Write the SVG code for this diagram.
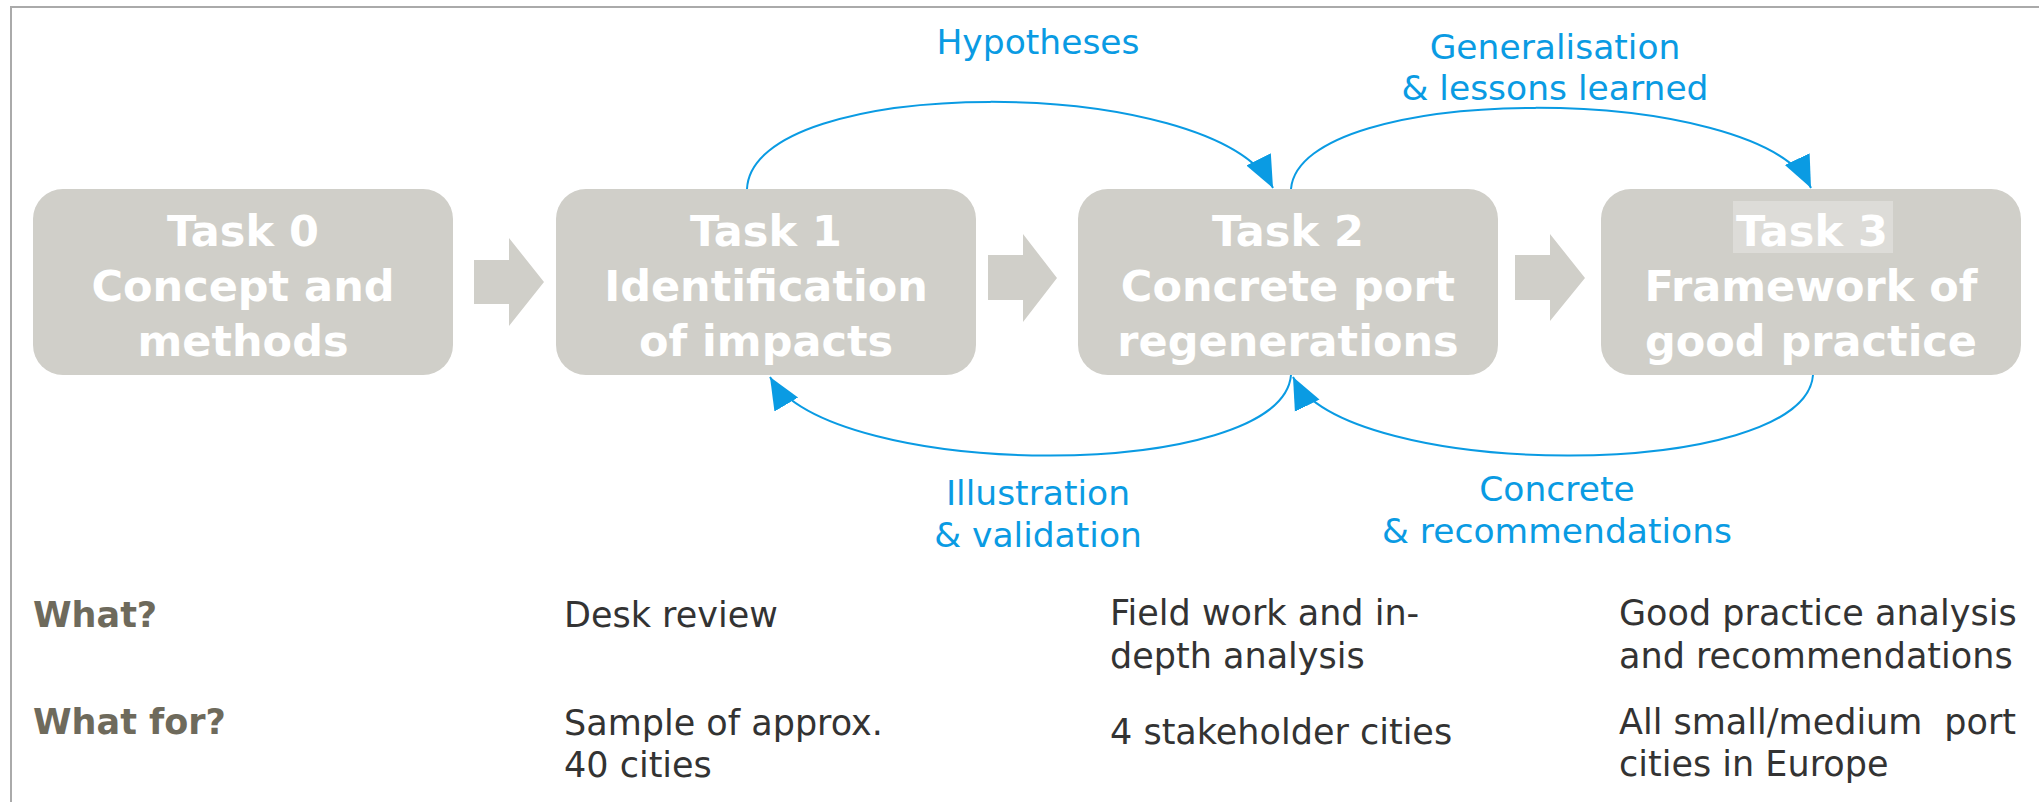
<svg xmlns="http://www.w3.org/2000/svg" width="2039" height="802" viewBox="0 0 2039 802">
<style>
.box{fill:#d0cfc9}
.hl{fill:#dddcd8}
.blk{fill:#d0cfc9}
.tt{font-family:"DejaVu Sans",Verdana,sans-serif;font-weight:bold;font-size:43px;fill:#ffffff;text-anchor:middle}
.lbl{font-family:"DejaVu Sans",Verdana,sans-serif;font-size:34.5px;fill:#0a9be3;text-anchor:middle}
.hd{font-family:"DejaVu Sans",Verdana,sans-serif;font-weight:bold;font-size:35px;fill:#6e6a5c}
.bd{font-family:"DejaVu Sans",Verdana,sans-serif;font-size:35px;fill:#333333}
.cn{fill:none;stroke:#0a9be3;stroke-width:2}
.frame{stroke:#aaaaaa;stroke-width:2;fill:none}
</style>
<defs>
<marker id="ah" markerUnits="userSpaceOnUse" markerWidth="32" markerHeight="32" viewBox="0 0 28 24" refX="28" refY="12" orient="auto">
<path d="M0,0 L28,12 L0,24 Z" fill="#0a9be3"/>
</marker>
</defs>
<rect width="2039" height="802" fill="#ffffff"/>
<path class="frame" d="M11,802 V7 H2039"/>

<g id="task0">
<rect class="box" x="33" y="189" width="420" height="186" rx="30"/>
<text class="tt" x="243" y="246">Task 0</text>
<text class="tt" x="243" y="301">Concept and</text>
<text class="tt" x="243" y="356">methods</text>
</g>
<g id="task1">
<rect class="box" x="556" y="189" width="420" height="186" rx="30"/>
<text class="tt" x="766" y="246">Task 1</text>
<text class="tt" x="766" y="301">Identification</text>
<text class="tt" x="766" y="356">of impacts</text>
</g>
<g id="task2">
<rect class="box" x="1078" y="189" width="420" height="186" rx="30"/>
<text class="tt" x="1288" y="246">Task 2</text>
<text class="tt" x="1288" y="301">Concrete port</text>
<text class="tt" x="1288" y="356">regenerations</text>
</g>
<g id="task3">
<rect class="box" x="1601" y="189" width="420" height="186" rx="30"/>
<rect class="hl" x="1733" y="201" width="160" height="52"/>
<text class="tt" x="1812" y="246">Task 3</text>
<text class="tt" x="1811" y="301">Framework of</text>
<text class="tt" x="1811" y="356">good practice</text>
</g>

<g id="flow-arrows">
<path class="blk" d="M474,260 H509 V238 L544,282 L509,326 V304 H474 Z"/>
<path class="blk" d="M988,255 H1023 V234 L1057,278 L1023,322 V300 H988 Z"/>
<path class="blk" d="M1515,255 H1550 V234 L1585,278 L1550,321 V300 H1515 Z"/>
</g>

<g id="connectors">
<path class="cn" marker-end="url(#ah)" d="M747,189 C752,73 1215,73 1273,188"/>
<path class="cn" marker-end="url(#ah)" d="M1291,189 C1300,81 1760,81 1811,188"/>
<path class="cn" marker-end="url(#ah)" d="M1291,375 C1282,482 832,482 770,377"/>
<path class="cn" marker-end="url(#ah)" d="M1813,375 C1805,482 1345,482 1293,377"/>
</g>

<g id="labels">
<text class="lbl" x="1038" y="54">Hypotheses</text>
<text class="lbl" x="1555" y="59">Generalisation</text>
<text class="lbl" x="1555" y="100">&amp; lessons learned</text>
<text class="lbl" x="1038" y="505">Illustration</text>
<text class="lbl" x="1038" y="547">&amp; validation</text>
<text class="lbl" x="1557" y="501">Concrete</text>
<text class="lbl" x="1557" y="543">&amp; recommendations</text>
</g>

<g id="table">
<text class="hd" x="33" y="627">What?</text>
<text class="hd" x="33" y="734">What for?</text>
<text class="bd" x="564" y="627">Desk review</text>
<text class="bd" x="564" y="735">Sample of approx.</text>
<text class="bd" x="564" y="777">40 cities</text>
<text class="bd" x="1110" y="625">Field work and in-</text>
<text class="bd" x="1110" y="668">depth analysis</text>
<text class="bd" x="1110" y="744">4 stakeholder cities</text>
<text class="bd" x="1619" y="625">Good practice analysis</text>
<text class="bd" x="1619" y="668">and recommendations</text>
<text class="bd" x="1619" y="734">All small/medium</text>
<text class="bd" x="2016" y="734" text-anchor="end">port</text>
<text class="bd" x="1619" y="776">cities in Europe</text>
</g>
</svg>
